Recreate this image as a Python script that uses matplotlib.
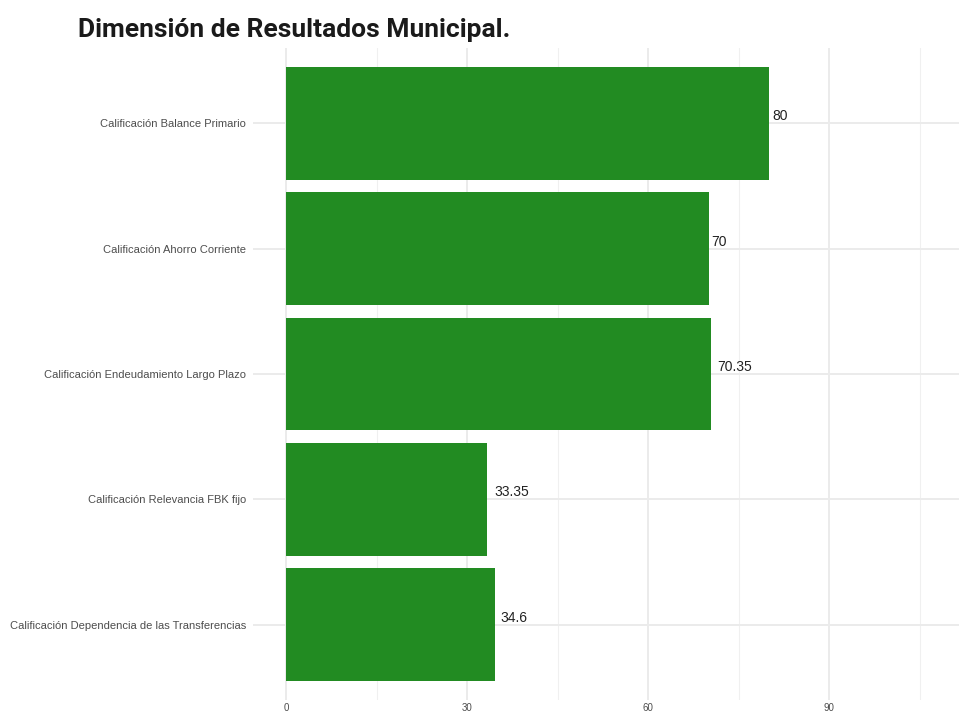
import matplotlib
matplotlib.use("Agg")
import matplotlib.pyplot as plt
import matplotlib.transforms as mtransforms

# datos del grafico (de arriba hacia abajo)
categorias = [
    "Calificación Balance Primario",
    "Calificación Ahorro Corriente",
    "Calificación Endeudamiento Largo Plazo",
    "Calificación Relevancia FBK fijo",
    "Calificación Dependencia de las Transferencias",
]
valores = [80, 70, 70.35, 33.35, 34.6]
etiquetas = ["80", "70", "70.35", "33.35", "34.6"]
ticks_x = [0, 30, 60, 90]
ticks_menores = [15, 45, 75, 105]

plt.rcParams["font.family"] = ["Liberation Sans", "DejaVu Sans"]

fig = plt.figure(figsize=(9.59, 7.15), dpi=100)
# panel en pixeles: izquierda 253, derecha 959, arriba 48, abajo 700
ax = fig.add_axes([253 / 959, 15 / 715, 706 / 959, 652 / 715])

n = len(categorias)
pos = list(range(n, 0, -1))
ax.barh(pos, valores, height=0.9, color="#228B22", zorder=2)

ax.set_xlim(-5.5, 111.5)
ax.set_ylim(0.4, n + 0.6)

ax.set_xticks(ticks_x)
ax.set_xticks(ticks_menores, minor=True)
ax.set_yticks(pos)
ax.set_yticklabels(categorias, fontsize=8, color="#4d4d4d")
ax.set_xticklabels([str(t) for t in ticks_x], fontsize=7, color="#4d4d4d")

ax.tick_params(axis="both", which="both", length=0)
ax.tick_params(axis="y", pad=5)
ax.tick_params(axis="x", pad=2)

ax.grid(True, which="major", axis="both", color="#ebebeb", linewidth=1.4, zorder=0)
ax.grid(True, which="minor", axis="x", color="#f0f0f0", linewidth=0.8, zorder=0)
ax.set_axisbelow(True)
for s in ax.spines.values():
    s.set_visible(False)

# etiquetas de valor, desplazadas 20% de su ancho (hjust = -0.2)
fig.canvas.draw()
renderer = fig.canvas.get_renderer()
for p, v, lab in zip(pos, valores, etiquetas):
    t = ax.text(v, p, lab, fontsize=10, color="#222222", ha="left", va="bottom")
    w = t.get_window_extent(renderer).width
    t.set_transform(ax.transData + mtransforms.ScaledTranslation(0.2 * w / fig.dpi, 0, fig.dpi_scale_trans))

fig.text(78 / 959, 1 - 30 / 715, "Dimensión de Resultados Municipal.", fontsize=19,
         fontweight="semibold", color="#1a1a1a", va="center", ha="left",
         family=["Roboto", "DejaVu Sans"])

fig.savefig("out.png", dpi=100, facecolor="white")
